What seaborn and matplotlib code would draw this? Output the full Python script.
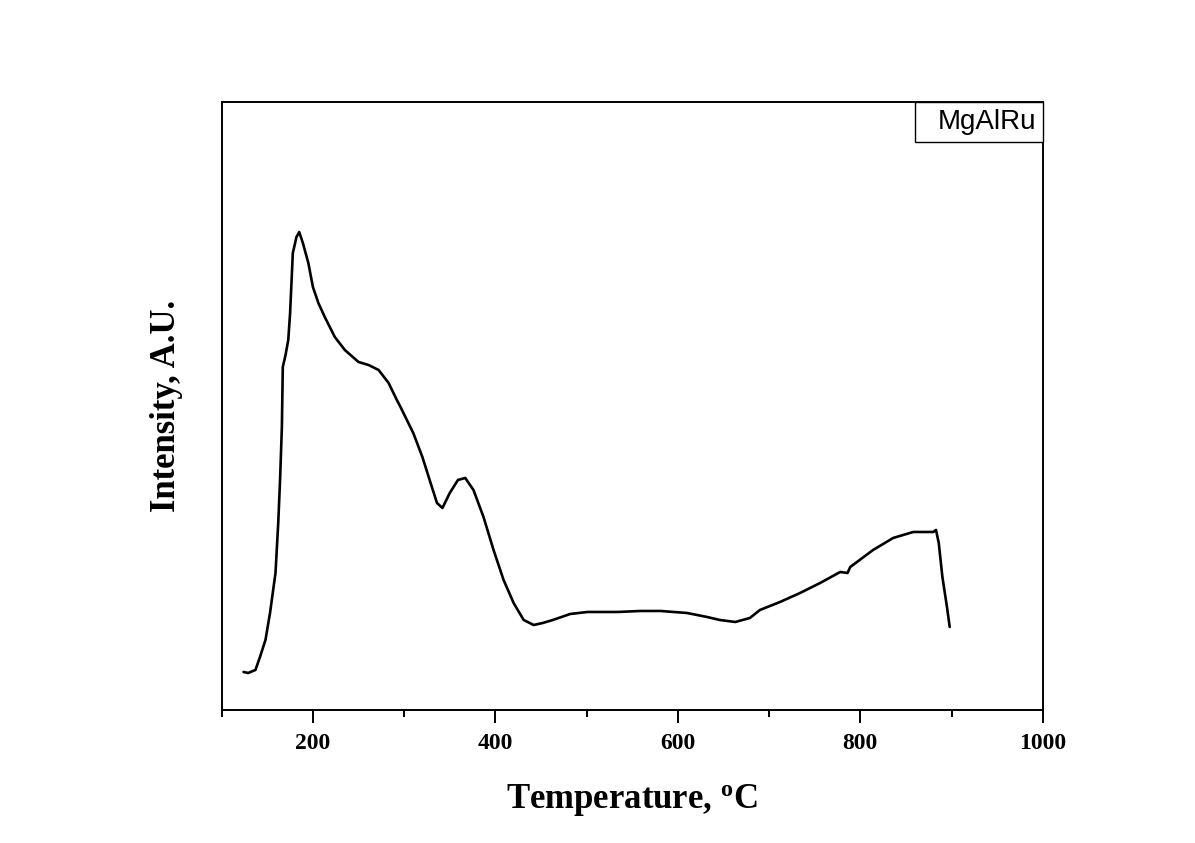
import matplotlib
matplotlib.use("Agg")
import matplotlib.pyplot as plt
import seaborn as sns
import pandas as pd
from matplotlib.ticker import MultipleLocator

# Data (temperature in °C, intensity in arbitrary units)
temperature = [124, 129, 137, 142, 148, 153, 159, 162, 164, 166, 167, 170, 173, 175,
               178, 182, 185, 189, 195, 200, 206, 213, 224, 235, 250, 261, 272, 283,
               292, 296, 310, 320, 329, 336, 342, 350, 359, 367, 376, 387, 398, 409,
               420, 431, 442, 452, 463, 482, 501, 534, 559, 581, 610, 632, 646, 663,
               679, 690, 712, 734, 756, 778, 786, 789, 814, 836, 858, 880, 883, 886,
               890, 895, 898]
intensity = [38, 37, 40, 53, 70, 97, 137, 187, 230, 283, 343, 355, 370, 397,
             457, 473, 478, 467, 447, 423, 407, 393, 373, 360, 348, 345, 340, 327,
             310, 303, 277, 253, 227, 207, 202, 217, 230, 232, 220, 193, 160, 130,
             107, 90, 85, 87, 90, 96, 98, 98, 99, 99, 97, 93, 90, 88,
             92, 100, 108, 117, 127, 138, 137, 143, 160, 172, 178, 178, 180, 167,
             133, 103, 83]
series_name = "MgAlRu"
x_label = r"Temperature, $^{\mathrm{o}}$C"
y_label = "Intensity, A.U."

df = pd.DataFrame({"T": temperature, "I": intensity})

sns.set_style("white")
plt.rcParams["font.family"] = ["Liberation Serif", "DejaVu Serif"]
plt.rcParams["mathtext.fontset"] = "custom"
plt.rcParams["mathtext.rm"] = "Liberation Serif:bold"
plt.rcParams["mathtext.it"] = "Liberation Serif:bold"
plt.rcParams["mathtext.bf"] = "Liberation Serif:bold"
plt.rcParams["text.color"] = "black"
plt.rcParams["axes.labelcolor"] = "black"
plt.rcParams["xtick.color"] = "black"
plt.rcParams["ytick.color"] = "black"

fig = plt.figure(figsize=(11.95, 8.43), dpi=100)
ax = fig.add_axes([0.1855, 0.1578, 0.8726 - 0.1855, 0.879 - 0.1578])

sns.lineplot(data=df, x="T", y="I", ax=ax, color="black", linewidth=1.9,
             estimator=None, sort=False, label=series_name)

ax.set_xlim(100, 1000)
ax.set_ylim(0, 608)
ax.set_yticks([])
ax.xaxis.set_major_locator(MultipleLocator(200))
ax.xaxis.set_minor_locator(MultipleLocator(100))
ax.tick_params(axis="x", which="major", direction="out", length=9.5, width=1.4,
               pad=7, labelsize=17, bottom=True, colors="black")
ax.tick_params(axis="x", which="minor", direction="out", length=5, width=1.4,
               bottom=True)
for lab in ax.get_xticklabels():
    lab.set_fontweight("bold")
for sp in ax.spines.values():
    sp.set_visible(True)
    sp.set_color("black")
    sp.set_linewidth(1.4)

ax.set_xlabel(x_label, fontsize=25, fontweight="bold", labelpad=20)
ax.set_ylabel(y_label, fontsize=25, fontweight="bold", labelpad=28)

leg = ax.legend(loc="upper right", handlelength=0.55, handletextpad=0,
                borderaxespad=0, fancybox=False, framealpha=1,
                edgecolor="black", borderpad=0.25,
                prop={"family": "Liberation Sans", "size": 20})
leg.get_frame().set_linewidth(1.0)
for h in leg.legend_handles:
    h.set_visible(False)
for t in leg.get_texts():
    t.set_color("black")

fig.savefig("out.png", dpi=100, facecolor="white")
